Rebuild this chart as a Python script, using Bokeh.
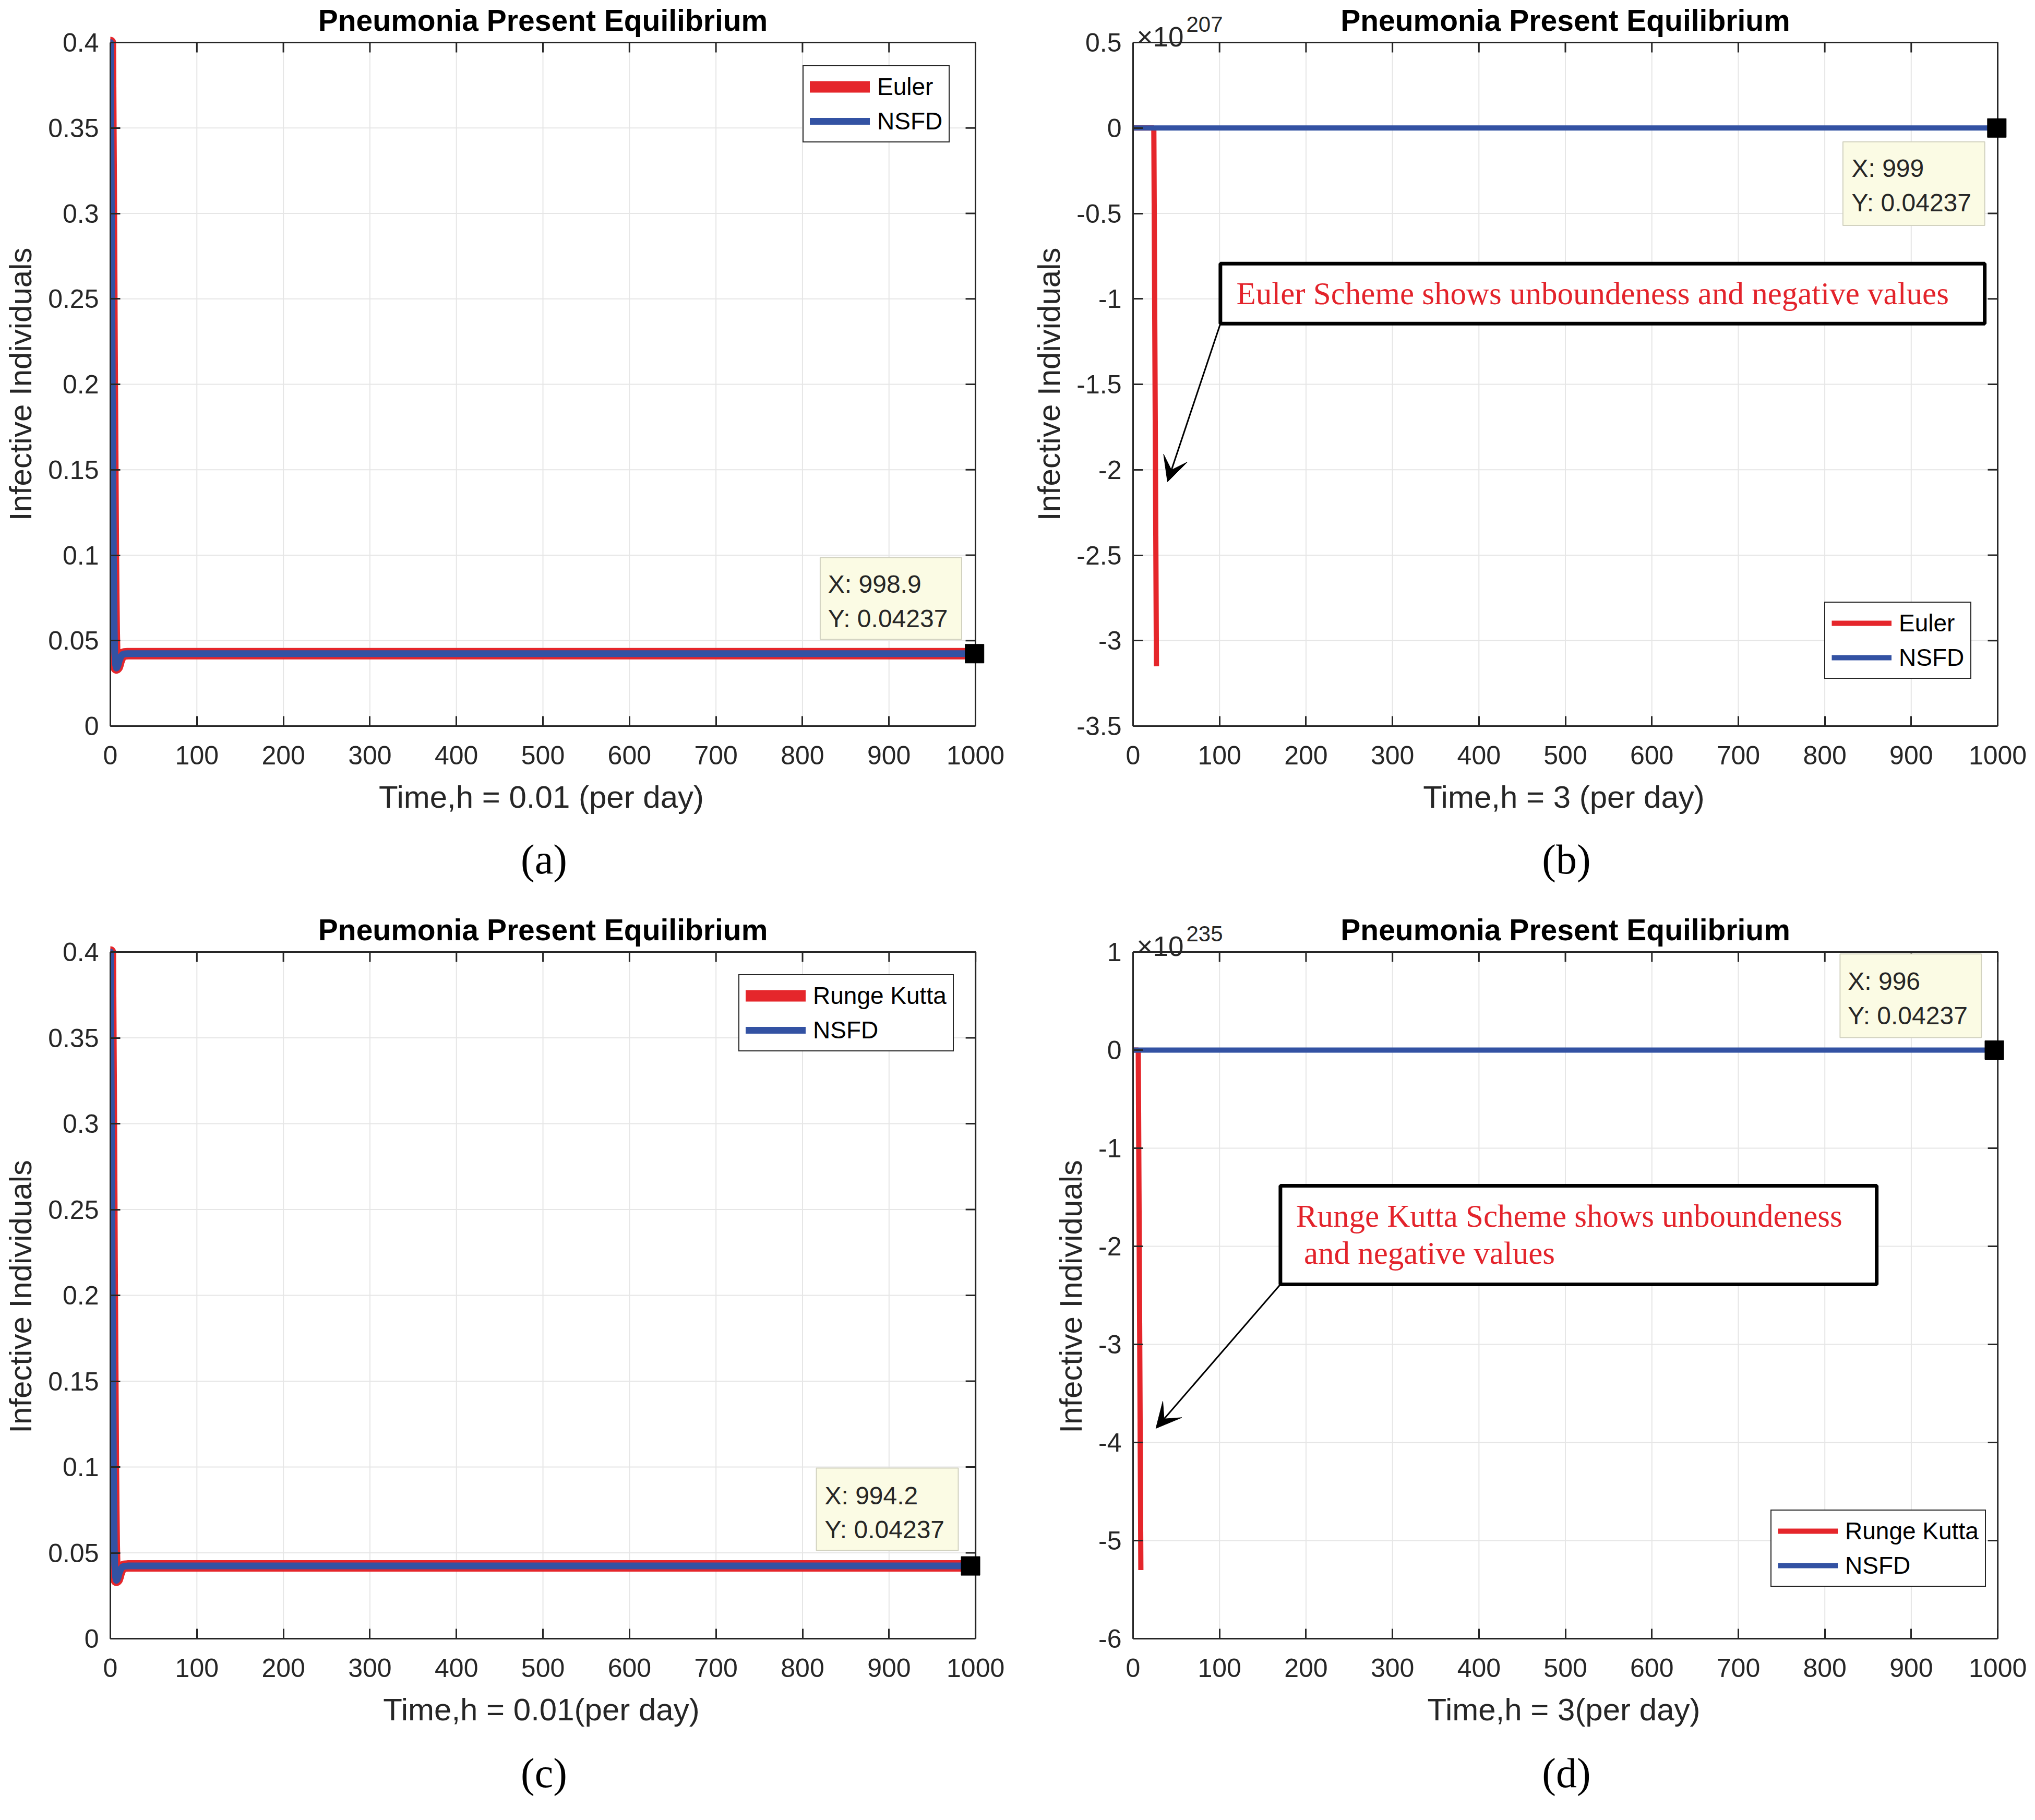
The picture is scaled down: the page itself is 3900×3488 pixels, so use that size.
from bokeh.plotting import figure
from bokeh.models import (Range1d, FixedTicker, Label, BoxAnnotation,
                          Arrow, VeeHead, Title)
from bokeh.layouts import gridplot
from bokeh.embed import file_html
from bokeh.resources import INLINE

# ---------------- data ----------------
x_ticks = [0, 100, 200, 300, 400, 500, 600, 700, 800, 900, 1000]

# (a) h = 0.01 : Euler vs NSFD
t_a = [0, 0.5, 1, 1.5, 2, 2.5, 3, 3.5, 4, 4.5, 5, 6, 7, 8, 9, 10, 12, 14, 16, 20, 998.9]
euler_a = [0.4, 0.36, 0.32, 0.27, 0.22, 0.18, 0.14, 0.10, 0.075, 0.055, 0.043, 0.036,
           0.034, 0.0345, 0.036, 0.038, 0.0405, 0.0418, 0.0422, 0.04237, 0.04237]
nsfd_a = [0.4, 0.36, 0.32, 0.27, 0.22, 0.18, 0.14, 0.10, 0.075, 0.055, 0.043, 0.036,
          0.034, 0.0345, 0.036, 0.038, 0.0405, 0.0418, 0.0422, 0.04237, 0.04237]
tip_a = (998.9, 0.04237)
yticks_a = [0, 0.05, 0.1, 0.15, 0.2, 0.25, 0.3, 0.35, 0.4]
ylabels_a = ["0", "0.05", "0.1", "0.15", "0.2", "0.25", "0.3", "0.35", "0.4"]

# (b) h = 3 : Euler vs NSFD  (values in units of 10^207)
t_b_euler = [0, 3, 6, 9, 12, 15, 18, 21, 24, 27]
euler_b = [0, 0, 0, 0, 0, 0, 0, 0, 0, -3.15]
t_b_nsfd = [0, 999]
nsfd_b = [0, 0]
tip_b = (999, 0.0)
yticks_b = [-3.5, -3, -2.5, -2, -1.5, -1, -0.5, 0, 0.5]
ylabels_b = ["-3.5", "-3", "-2.5", "-2", "-1.5", "-1", "-0.5", "0", "0.5"]

# (c) h = 0.01 : Runge Kutta vs NSFD
t_c = [0, 0.5, 1, 1.5, 2, 2.5, 3, 3.5, 4, 4.5, 5, 6, 7, 8, 9, 10, 12, 14, 16, 20, 994.2]
rk_c = [0.4, 0.36, 0.32, 0.27, 0.22, 0.18, 0.14, 0.10, 0.075, 0.055, 0.043, 0.036,
        0.034, 0.0345, 0.036, 0.038, 0.0405, 0.0418, 0.0422, 0.04237, 0.04237]
nsfd_c = [0.4, 0.36, 0.32, 0.27, 0.22, 0.18, 0.14, 0.10, 0.075, 0.055, 0.043, 0.036,
          0.034, 0.0345, 0.036, 0.038, 0.0405, 0.0418, 0.0422, 0.04237, 0.04237]
tip_c = (994.2, 0.04237)

# (d) h = 3 : Runge Kutta vs NSFD  (values in units of 10^235)
t_d_rk = [0, 3, 6, 9]
rk_d = [0, 0, 0, -5.3]
t_d_nsfd = [0, 996]
nsfd_d = [0, 0]
tip_d = (996, 0.0)
yticks_d = [-6, -5, -4, -3, -2, -1, 0, 1]
ylabels_d = ["-6", "-5", "-4", "-3", "-2", "-1", "0", "1"]

TITLE = "Pneumonia Present Equilibrium"
YLABEL = "Infective Individuals"

# ---------------- style ----------------
BLUE = "#3352A3"
RED = "#E5262B"
AX = "#262626"
GRID = "#E6E6E6"
SANS = "Liberation Sans"
SERIF = "Liberation Serif"
TIP_FILL = "#FBFBE4"
TIP_LINE = "#D2D2C0"
EXT_TOP = 4     # figure top -> frame top (px)
EXT_R = 24      # axes box right -> frame right (px)
# trailing spacing keeps the axis labels / caption centred on the axes box
# (the drawing frame extends a little above and to the right of the box)
YPAD = "\u2002\u2002\u00a0"
XPAD = "\u2002"
CPAD = "\u00a0"


def make_fig(box, W, H, yr, yticks, ylabels, xlabel, caption, cap_standoff):
    L, R, T, B = box
    ymin, ymax = yr
    px_y = (ymax - ymin) / (B - T)
    px_x = 1000.0 / (R - L)
    p = figure(width=W, height=H, title=None,
               x_range=Range1d(0, 1000 + EXT_R * px_x),
               y_range=Range1d(ymin, ymax + (T - EXT_TOP) * px_y),
               output_backend="svg", toolbar_location=None,
               min_border_left=L, min_border_right=W - R - EXT_R,
               min_border_top=EXT_TOP, min_border_bottom=H - B)
    p.outline_line_color = None
    p.xgrid.visible = False
    p.ygrid.visible = False
    xt = FixedTicker(ticks=x_ticks)
    yt = FixedTicker(ticks=yticks)
    for ax, tk in ((p.xaxis, xt), (p.yaxis, yt)):
        ax.ticker = tk
        ax.axis_line_color = AX
        ax.axis_line_width = 3
        ax.major_tick_line_color = AX
        ax.major_tick_line_width = 3
        ax.major_tick_in = 19
        ax.major_tick_out = 0
        ax.minor_tick_line_color = None
        ax.major_label_text_font = SANS
        ax.major_label_text_font_size = "50px"
        ax.major_label_text_color = AX
        ax.axis_label_text_font = SANS
        ax.axis_label_text_font_size = "60px"
        ax.axis_label_text_font_style = "normal"
        ax.axis_label_text_color = AX
    p.xaxis.bounds = (0, 1000)
    p.yaxis.bounds = (ymin, ymax)
    p.xaxis.major_label_overrides = {t: str(t) for t in x_ticks}
    p.yaxis.major_label_overrides = dict(zip(yticks, ylabels))
    p.xaxis.major_label_standoff = 38
    p.yaxis.major_label_standoff = 22
    p.xaxis.axis_label = xlabel + XPAD
    p.yaxis.axis_label = YLABEL + YPAD
    p.xaxis.axis_label_standoff = 26
    p.yaxis.axis_label_standoff = 16
    # grid lines inside the axes box
    p.segment(x0=x_ticks, y0=[ymin] * len(x_ticks), x1=x_ticks, y1=[ymax] * len(x_ticks),
              line_color=GRID, line_width=2)
    p.segment(x0=[0] * len(yticks), y0=yticks, x1=[1000] * len(yticks), y1=yticks,
              line_color=GRID, line_width=2)
    # axes box
    p.quad(left=[0], right=[1000], bottom=[ymin], top=[ymax], fill_color=None,
           line_color=AX, line_width=3)
    # inward ticks on the top and right edges
    p.ray(x=x_ticks, y=[ymax] * len(x_ticks), length=19, length_units="screen",
          angle=-90, angle_units="deg", line_color=AX, line_width=3)
    p.ray(x=[1000] * len(yticks), y=yticks, length=19, length_units="screen",
          angle=180, angle_units="deg", line_color=AX, line_width=3)
    # title above the box
    p.add_layout(Label(x=500, y=ymax, y_offset=43, text=TITLE, text_font=SANS,
                       text_font_size="57px", text_font_style="bold", text_color="black",
                       text_align="center", text_baseline="middle"))
    p.add_layout(Title(text=caption + CPAD, align="center", text_font=SERIF,
                       text_font_size="80px", text_font_style="normal",
                       text_color="black", standoff=cap_standoff, vertical_align="top"),
                 "below")
    return p


def style_legend(p, loc, w_glyph=115):
    leg = p.legend[0]
    leg.location = loc
    leg.margin = 0
    leg.border_line_color = AX
    leg.border_line_width = 2
    leg.border_line_alpha = 1
    leg.background_fill_color = "white"
    leg.background_fill_alpha = 1
    leg.label_text_font = SANS
    leg.label_text_font_size = "46px"
    leg.label_text_color = "black"
    leg.glyph_width = w_glyph
    leg.glyph_height = 46
    leg.label_height = 46
    leg.spacing = 12
    leg.padding = 12
    leg.label_standoff = 14


def datatip(p, box, tx, ty1, ty2, xtxt, ytxt):
    p.add_layout(BoxAnnotation(left=box[0], right=box[1], bottom=box[2], top=box[3],
                               fill_color=TIP_FILL, fill_alpha=1,
                               line_color=TIP_LINE, line_alpha=1, line_width=2,
                               line_dash="solid"))
    for yy, txt in ((ty1, xtxt), (ty2, ytxt)):
        p.add_layout(Label(x=tx, y=yy, text=txt, text_font=SANS, text_font_size="48px",
                           text_color=AX, text_baseline="middle", text_align="left"))


def exponent(p, ytop, exp_txt):
    p.add_layout(Label(x=0, y=ytop, text="\u00d710", x_offset=7, y_offset=11,
                       text_font=SANS, text_font_size="53px", text_color=AX,
                       text_baseline="alphabetic", text_align="left"))
    p.add_layout(Label(x=0, y=ytop, text=exp_txt, x_offset=102, y_offset=35,
                       text_font=SANS, text_font_size="42px", text_color=AX,
                       text_baseline="alphabetic", text_align="left"))


def callout(p, box, lines, tx, arrow):
    p.add_layout(BoxAnnotation(left=box[0], right=box[1], bottom=box[2], top=box[3],
                               fill_color="white", fill_alpha=1,
                               line_color="black", line_alpha=1, line_width=7,
                               line_dash="solid"))
    for yy, txt in lines:
        p.add_layout(Label(x=tx, y=yy, text=txt, text_font=SERIF, text_font_size="61px",
                           text_color="#E3232B", text_baseline="middle", text_align="left"))
    p.add_layout(Arrow(end=VeeHead(size=48, fill_color="black", line_color="black"),
                       x_start=arrow[0], y_start=arrow[1], x_end=arrow[2], y_end=arrow[3],
                       line_color="black", line_width=3))


W = 1950
H1, H2 = 1748, 1740

# ---------------- (a) ----------------
pa = make_fig((209, 1869, 81, 1391), W, H1, (0, 0.4), yticks_a, ylabels_a,
              "Time,h = 0.01 (per day)", "(a)", 78)
pa.line(t_a, euler_a, line_color=RED, line_width=22, line_join="round",
        line_cap="round", legend_label="Euler")
pa.line(t_a, nsfd_a, line_color=BLUE, line_width=13, line_join="round",
        line_cap="round", legend_label="NSFD")
pa.scatter([tip_a[0]], [tip_a[1]], marker="square", size=36, color="black")
style_legend(pa, (1327, 1118))
datatip(pa, (820.5, 984, 0.0507, 0.0986), 829.5, 0.0831, 0.0629, "X: 998.9", "Y: 0.04237")

# ---------------- (b) ----------------
pb = make_fig((221, 1878, 81, 1391), W, H1, (-3.5, 0.5), yticks_b, ylabels_b,
              "Time,h = 3 (per day)", "(b)", 78)
pb.line(t_b_euler, euler_b, line_color=RED, line_width=10, legend_label="Euler")
pb.line(t_b_nsfd, nsfd_b, line_color=BLUE, line_width=10, legend_label="NSFD")
pb.scatter([tip_b[0]], [tip_b[1]], marker="square", size=36, color="black")
style_legend(pb, (1325, 90))
datatip(pb, (821, 985, -0.570, -0.081), 831, -0.237, -0.436, "X: 999", "Y: 0.04237")
exponent(pb, 0.5, "207")
callout(pb, (101, 985, -1.145, -0.794),
        [(-0.97, "Euler Scheme shows unboundeness and negative values")], 119.5,
        (101, -1.145, 39.8, -2.071))

# ---------------- (c) ----------------
pc = make_fig((211, 1880, 76, 1392), W, H2, (0, 0.4), yticks_a, ylabels_a,
              "Time,h = 0.01(per day)", "(c)", 82)
pc.line(t_c, rk_c, line_color=RED, line_width=22, line_join="round",
        line_cap="round", legend_label="Runge Kutta")
pc.line(t_c, nsfd_c, line_color=BLUE, line_width=13, line_join="round",
        line_cap="round", legend_label="NSFD")
pc.scatter([tip_c[0]], [tip_c[1]], marker="square", size=36, color="black")
style_legend(pc, (1204, 1125))
datatip(pc, (816, 980, 0.0514, 0.0994), 825.6, 0.0833, 0.0635, "X: 994.2", "Y: 0.04237")

# ---------------- (d) ----------------
pd_ = make_fig((211, 1878, 76, 1392), W, H2, (-6, 1), yticks_d, ylabels_d,
               "Time,h = 3(per day)", "(d)", 82)
pd_.line(t_d_rk, rk_d, line_color=RED, line_width=10, legend_label="Runge Kutta")
pd_.line(t_d_nsfd, nsfd_d, line_color=BLUE, line_width=10, legend_label="NSFD")
pd_.scatter([tip_d[0]], [tip_d[1]], marker="square", size=36, color="black")
style_legend(pd_, (1222, 99))
datatip(pd_, (817.6, 981, 0.128, 0.98), 826.6, 0.70, 0.35, "X: 996", "Y: 0.04237")
exponent(pd_, 1, "235")
callout(pd_, (170.4, 860, -2.388, -1.383),
        [(-1.69, "Runge Kutta Scheme shows unboundeness"),
         (-2.07, "\u00a0and negative values")],
        188.4, (170.4, -2.388, 26.4, -3.856))

grid = gridplot([[pa, pb], [pc, pd_]], toolbar_location=None)

open("out.html", "w").write(file_html(grid, INLINE))
